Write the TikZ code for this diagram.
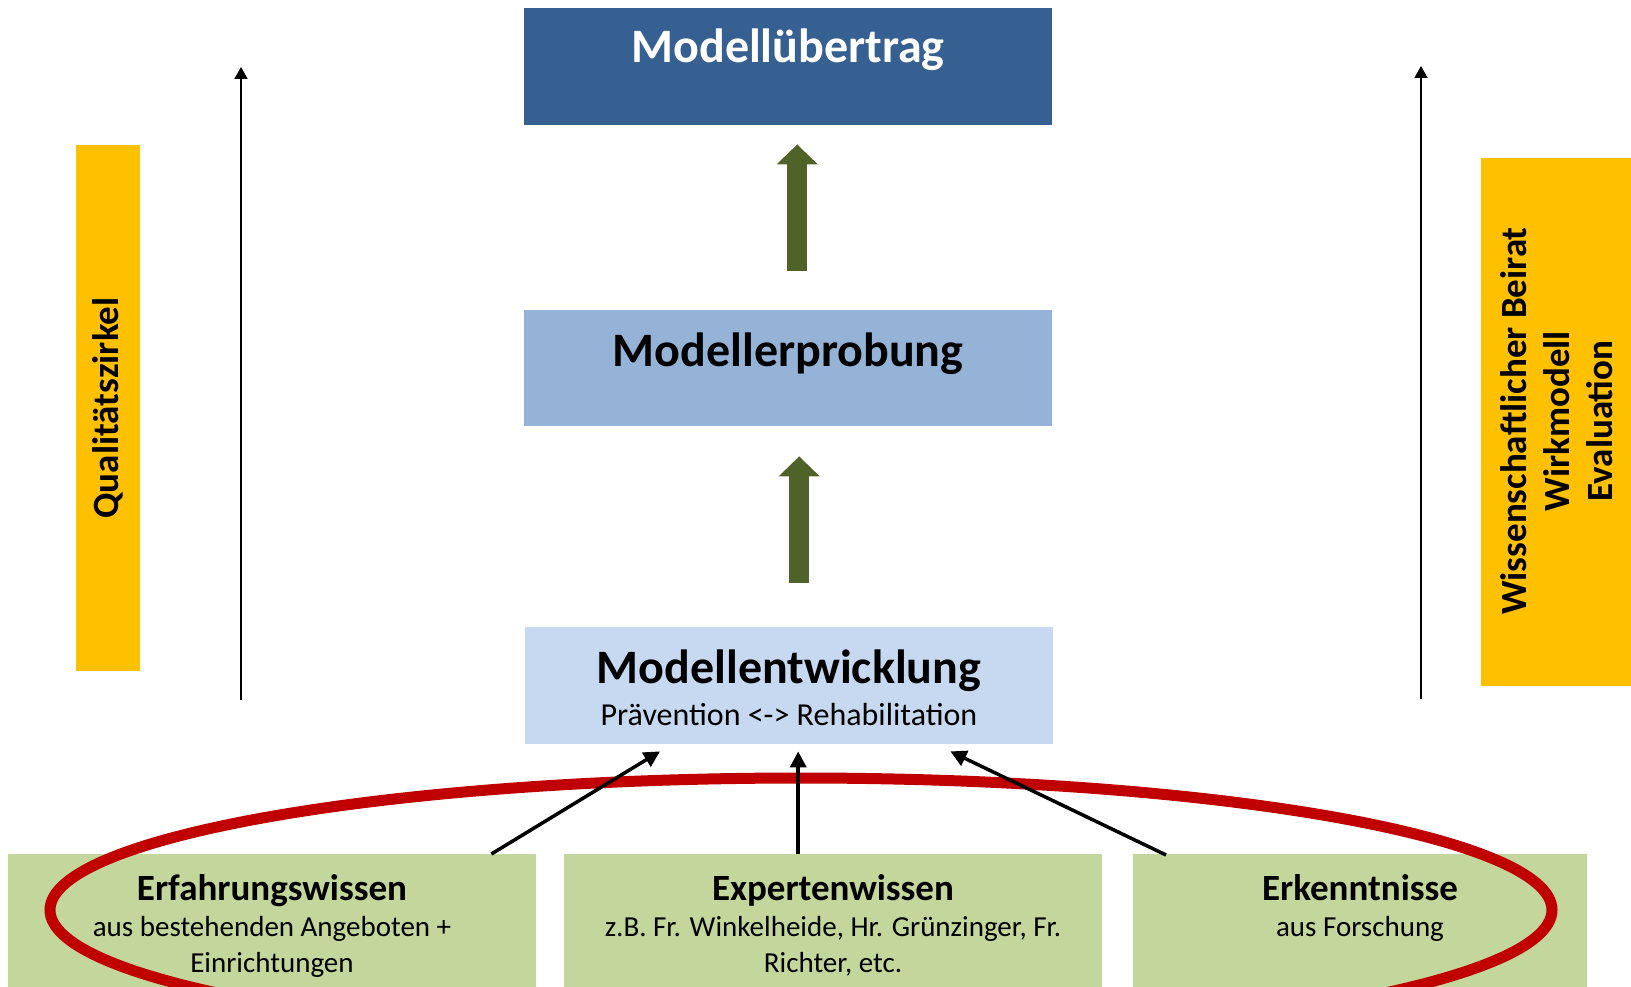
\documentclass[tikz,border=0pt]{standalone}
\usepackage{fontspec}
\setmainfont{Carlito}
\usetikzlibrary{arrows.meta}

\definecolor{dunkelblau}{RGB}{54,96,146}
\definecolor{mittelblau}{RGB}{149,179,215}
\definecolor{hellblau}{RGB}{198,217,241}
\definecolor{hellgruen}{RGB}{195,214,155}
\definecolor{olivgruen}{RGB}{79,98,40}
\definecolor{orangegelb}{RGB}{255,192,0}
\definecolor{kreisrot}{RGB}{192,0,0}

\begin{document}
\begin{tikzpicture}[x=1pt, y=-1pt, line join=miter,
  kasten/.style={draw=none, inner sep=0pt, anchor=north west},
  titel/.style={anchor=base, inner sep=0pt, font=\fontsize{48}{58}\selectfont\bfseries},
  untertitel/.style={anchor=base, inner sep=0pt, font=\fontsize{32}{39}\selectfont},
  quelle/.style={anchor=base, inner sep=0pt, font=\fontsize{37}{45}\selectfont\bfseries},
  quellzeile/.style={anchor=base, inner sep=0pt, font=\fontsize{29}{35}\selectfont},
  balkentext/.style={anchor=center, inner sep=0pt, rotate=90, align=center, font=\fontsize{37}{43}\selectfont\bfseries},
  blockpfeil/.style={draw=olivgruen, line width=20pt, line cap=butt, -{Triangle[length=20pt,width=40pt]}},
  pfeil/.style={line width=3.5pt, -{Triangle[length=16pt,width=16pt]}},
  achse/.style={line width=1.8pt, -{Triangle[length=12pt,width=13pt]}}]

  %% ════ 方框 ════
  \node[kasten, fill=dunkelblau, minimum width=528pt, minimum height=117pt] (uebertrag) at (524,8) {};
  \node[kasten, fill=mittelblau, minimum width=528pt, minimum height=116pt] (erprobung) at (524,310) {};
  \node[kasten, fill=hellblau, minimum width=528pt, minimum height=117pt] (entwicklung) at (525,627) {};
  \node[kasten, fill=hellgruen, minimum width=528pt, minimum height=150pt] (erfahrung) at (8,854) {};
  \node[kasten, fill=hellgruen, minimum width=538pt, minimum height=150pt] (experten) at (564,854) {};
  \node[kasten, fill=hellgruen, minimum width=454pt, minimum height=150pt] (erkenntnis) at (1133,854) {};

  %% ════ 侧栏 ════
  \node[kasten, fill=orangegelb, minimum width=64pt, minimum height=526pt] (zirkelbalken) at (76,145) {};
  \node[kasten, fill=orangegelb, minimum width=160pt, minimum height=528pt] (beiratbalken) at (1481,158) {};

  %% ════ 红色椭圆 ════
  \draw[kreisrot, line width=11pt] (801,910) ellipse (751 and 132);

  %% ════ 绿色粗箭头 ════
  \draw[blockpfeil] ([xshift=9pt,yshift=39pt]erprobung.north) -- ([xshift=9pt,yshift=-19pt]uebertrag.south);
  \draw[blockpfeil] ([xshift=10pt,yshift=44pt]entwicklung.north) -- ([xshift=11pt,yshift=-30pt]erprobung.south);

  %% ════ 黑色箭头 ════
  \draw[pfeil] ([xshift=-45pt]erfahrung.north east) -- ([xshift=135pt,yshift=-7pt]entwicklung.south west);
  \draw[pfeil] ([xshift=-35pt]experten.north) -- ([xshift=9pt,yshift=-7pt]entwicklung.south);
  \draw[pfeil] ([xshift=33pt,yshift=-1pt]erkenntnis.north west) -- ([xshift=-103pt,yshift=-7pt]entwicklung.south east);

  % 竖直细箭头
  \coordinate (linksUnten) at (241,700);
  \coordinate (linksOben) at (241,67);
  \coordinate (rechtsUnten) at (1421,699);
  \coordinate (rechtsOben) at (1421,66);
  \draw[achse] (linksUnten) -- (linksOben);
  \draw[achse] (rechtsUnten) -- (rechtsOben);

  %% ════ 标签 ════
  \node[titel, text=white] (uebertragText) at (788,63) {Modellübertrag};
  \node[titel] (erprobungText) at (788,366) {Modellerprobung};
  \node[titel] (entwicklungText) at (789,683) {Modellentwicklung};
  \node[untertitel] (entwicklungZeile) at (789,725) {Prävention <-> Rehabilitation};

  \node[quelle] (erfahrungText) at (272,900) {Erfahrungswissen};
  \node[quellzeile] (erfahrungZeileA) at (272,936) {aus bestehenden Angeboten +};
  \node[quellzeile] (erfahrungZeileB) at (272,972) {Einrichtungen};
  \node[quelle] (expertenText) at (833,900) {Expertenwissen};
  \node[quellzeile] (expertenZeileA) at (833,936) {z.B. Fr. Winkelheide, Hr. Grünzinger, Fr.};
  \node[quellzeile] (expertenZeileB) at (833,972) {Richter, etc.};
  \node[quelle] (erkenntnisText) at (1360,900) {Erkenntnisse};
  \node[quellzeile] (erkenntnisZeile) at (1360,936) {aus Forschung};

  \node[balkentext] (zirkelText) at (108,408) {Qualitätszirkel};
  \node[balkentext] (beiratText) at (1557,421) {Wissenschaftlicher Beirat\\Wirkmodell\\Evaluation};

  % 固定画布
  \pgfresetboundingbox
  \path[use as bounding box] (0,0) rectangle (1631,987);
\end{tikzpicture}
\end{document}
